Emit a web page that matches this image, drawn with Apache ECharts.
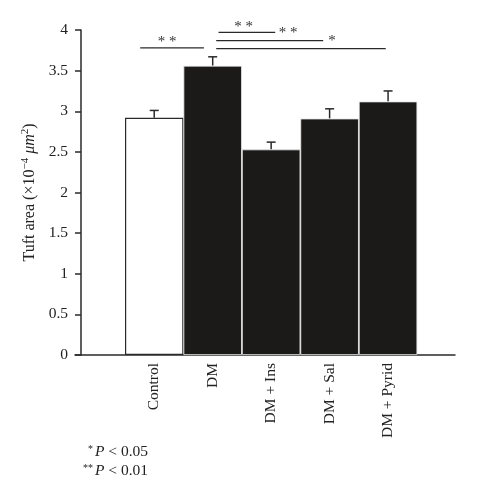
<!DOCTYPE html>
<html><head><meta charset="utf-8">
<script src="https://cdn.jsdelivr.net/npm/echarts@6/dist/echarts.min.js"></script>
<style>html,body{margin:0;padding:0;background:#fff}#c{width:479px;height:500px}</style>
</head><body><div id="c"></div>
<script>
const categories = ['Control', 'DM', 'DM + Ins', 'DM + Sal', 'DM + Pyrid'];
const means = [2.92, 3.56, 2.53, 2.91, 3.12];
const errors = [0.09, 0.11, 0.09, 0.12, 0.13];
const yTicks = [0, 0.5, 1, 1.5, 2, 2.5, 3, 3.5, 4];
// significance brackets: [startIndex, endIndex, y, textIndex, textY, label]
const sigLines = [
  [-0.24, 0.85, 3.78, 0.22, 3.85, '**'],
  [1.10, 2.07, 3.97, 1.53, 4.04, '**'],
  [1.06, 2.89, 3.87, 2.29, 3.96, '**'],
  [1.06, 3.96, 3.77, 3.04, 3.86, '*']
];
const FONT = 'Liberation Serif';
const INK = '#2a2a2a';

const chart = echarts.init(document.getElementById('c'), null, {renderer: 'canvas'});
const option = {
  backgroundColor: '#fff',
  animation: false,
  grid: [
    {left: 75, right: 24, top: 30, bottom: 145},
    {left: 125, right: 61.7, top: 30, bottom: 145}
  ],
  xAxis: [
    {gridIndex: 0, type: 'value', min: 0, max: 1, axisLine: {show: true, lineStyle: {color: INK, width: 1.5}},
     axisTick: {show: false}, axisLabel: {show: false}, splitLine: {show: false}},
    {gridIndex: 1, type: 'category', data: categories, axisLine: {show: false}, axisTick: {show: false},
     axisLabel: {rotate: 90, margin: 8, fontFamily: FONT, fontSize: 15.5, color: '#222'}}
  ],
  yAxis: [
    {gridIndex: 0, type: 'value', min: 0, max: 4, interval: 0.5, offset: -6,
     axisLine: {show: true, lineStyle: {color: INK, width: 1.5}},
     axisTick: {show: true, length: 6, lineStyle: {color: INK, width: 1.5}},
     axisLabel: {fontFamily: FONT, fontSize: 15.5, color: '#222', margin: 13},
     splitLine: {show: false},
     name: '{n|Tuft area (×10}{s|−4}{i| μm}{s|2}{n|)}',
     nameLocation: 'middle', nameGap: 36,
     nameTextStyle: {rich: {
       n: {fontFamily: FONT, fontSize: 16, color: '#222'},
       i: {fontFamily: FONT, fontSize: 16, color: '#222', fontStyle: 'italic'},
       s: {fontFamily: FONT, fontSize: 11, color: '#222', verticalAlign: 'top', padding: [0, 0, 9, 0]}
     }}},
    {gridIndex: 1, type: 'value', min: 0, max: 4, show: false}
  ],
  series: [
    {type: 'bar', xAxisIndex: 1, yAxisIndex: 1, barWidth: '100%',
     data: means.map((v, i) => ({value: v, itemStyle: i === 0
       ? {color: '#fff', borderColor: INK, borderWidth: 1.2}
       : {color: '#1c1a18', borderColor: '#e8e8e8', borderWidth: 0.8}}))},
    {type: 'custom', xAxisIndex: 1, yAxisIndex: 1, clip: false,
     data: means.map((v, i) => [i, v, errors[i]]),
     renderItem: function (params, api) {
       const base = api.coord([api.value(0), api.value(1)]);
       const top = api.coord([api.value(0), api.value(1) + api.value(2)]);
       const cap = 4.5;
       const st = {stroke: INK, lineWidth: 1.5};
       return {type: 'group', children: [
         {type: 'line', shape: {x1: base[0], y1: base[1], x2: top[0], y2: top[1]}, style: st},
         {type: 'line', shape: {x1: top[0] - cap, y1: top[1], x2: top[0] + cap, y2: top[1]}, style: st}
       ]};
     }},
    {type: 'custom', xAxisIndex: 1, yAxisIndex: 1, clip: false,
     data: sigLines.map(s => [s[0], s[1], s[2], s[3], s[4]]),
     renderItem: function (params, api) {
       const band = api.size([1, 0])[0];
       const origin = api.coord([0, 0])[0];
       const px = v => origin + v * band;
       const y = api.coord([0, api.value(2)])[1];
       const ty = api.coord([0, api.value(4)])[1];
       const label = sigLines[params.dataIndex][5];
       return {type: 'group', children: [
         {type: 'line', shape: {x1: px(api.value(0)), y1: y, x2: px(api.value(1)), y2: y},
          style: {stroke: INK, lineWidth: 1.3}},
         {type: 'text', x: px(api.value(3)), y: ty,
          style: {text: label.split('').join(' '), fontFamily: FONT, fontSize: 15, fill: '#333',
                  align: 'center', verticalAlign: 'middle'}}
       ]};
     }}
  ],
  graphic: [
    {type: 'text', right: 479 - 148, top: 444,
     style: {text: '{s|*}{i|P}{n| < 0.05}', align: 'right', rich: {
       s: {fontFamily: FONT, fontSize: 10, fill: '#222', verticalAlign: 'top', padding: [0, 2, 6, 0]},
       i: {fontFamily: FONT, fontSize: 15.5, fill: '#222', fontStyle: 'italic'},
       n: {fontFamily: FONT, fontSize: 15.5, fill: '#222'}}}},
    {type: 'text', right: 479 - 148, top: 463,
     style: {text: '{s|**}{i|P}{n| < 0.01}', align: 'right', rich: {
       s: {fontFamily: FONT, fontSize: 10, fill: '#222', verticalAlign: 'top', padding: [0, 2, 6, 0]},
       i: {fontFamily: FONT, fontSize: 15.5, fill: '#222', fontStyle: 'italic'},
       n: {fontFamily: FONT, fontSize: 15.5, fill: '#222'}}}}
  ]
};
chart.setOption(option);
</script></body></html>
